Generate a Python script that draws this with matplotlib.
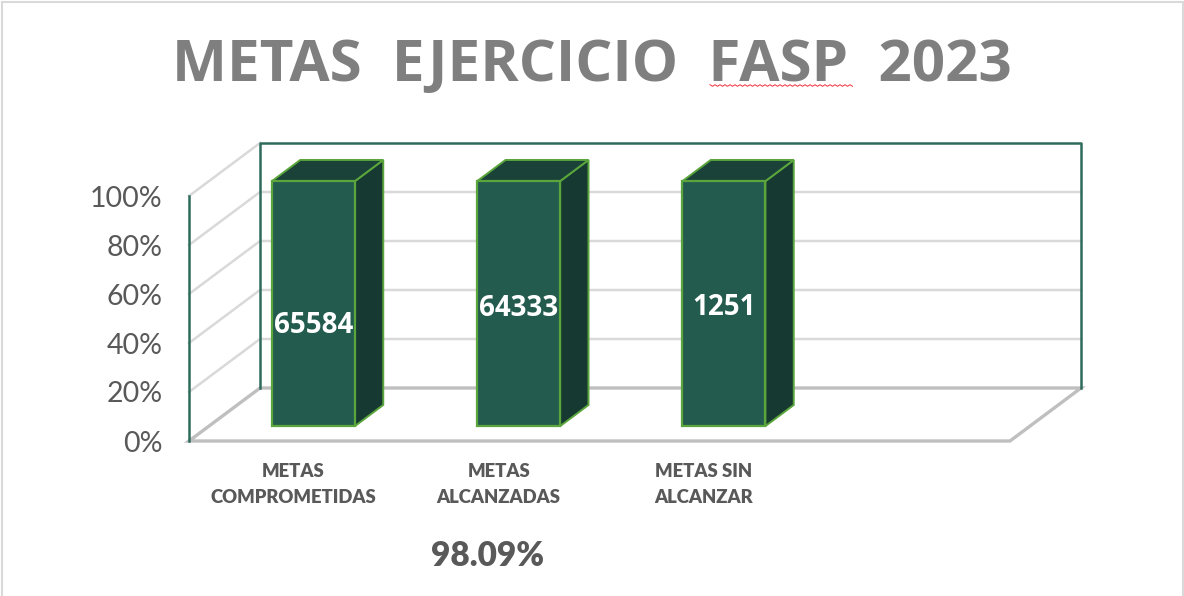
from matplotlib import pyplot as plt
from matplotlib.lines import Line2D
from matplotlib.patches import Polygon, Rectangle
import numpy as np

categories = ['METAS\nCOMPROMETIDAS', 'METAS\nALCANZADAS', 'METAS SIN\nALCANZAR']
metas = [65584, 64333, 1251]
heights = [100, 100, 100]  # 100% stacked columns, one series each
label_heights = [41, 48, 48.5]
y_ticks = [0, 20, 40, 60, 80, 100]
y_labels = ['0%', '20%', '40%', '60%', '80%', '100%']
title = 'METAS  EJERCICIO  FASP  2023'
percent_text = '98.09%'

W, H = 1184, 596
plt.rcParams['font.family'] = ['Lato', 'DejaVu Sans']

fig = plt.figure(figsize=(W / 100, H / 100), dpi=100)
ax = fig.add_axes([189 / W, (H - 441) / H, 821 / W, 245 / H])
ax.set_xlim(-0.509, 3.491)
ax.set_ylim(0, 100)
for s in ax.spines.values():
    s.set_visible(False)
ax.patch.set_visible(False)

# depth of the 3d box, in data units
DX, DY = 71 / 205.25, 53 / 2.45
BAR_W = 83 / 205.25
D1, D2 = 0.28, 0.68


def proj(x, y, d):
    return (x + d * DX, y + d * DY)


x0, x1 = ax.get_xlim()

# floor
ax.add_patch(Polygon([proj(x0, 0, 0), proj(x1, 0, 0), proj(x1, 0, 1), proj(x0, 0, 1)],
                     closed=True, fc='white', ec='#BFBFBF', lw=2.4, clip_on=False, zorder=1))

# grid on the side and back walls
for t in y_ticks[1:]:
    pts = [proj(x0, t, 0), proj(x0, t, 1), proj(x1, t, 1)]
    if t == 100:
        pts = pts[:2]
    ax.plot(*zip(*pts), color='#D9D9D9', lw=1.8, clip_on=False, zorder=1)

# wall frame
green = '#2F6B5C'
ax.plot(*zip(proj(x0, 0, 1), proj(x0, 100, 1), proj(x1, 100, 1), proj(x1, 0, 1)),
        color=green, lw=1.8, clip_on=False, zorder=2)
ax.plot(*zip(proj(x0, 0, 0), proj(x0, 100, 0)), color=green, lw=1.8, clip_on=False, zorder=2)

# columns
edge = '#5BA63C'
for i, h in enumerate(heights):
    l, r = i - BAR_W / 2, i + BAR_W / 2
    side = [proj(r, 0, D1), proj(r, 0, D2), proj(r, h, D2), proj(r, h, D1)]
    top = [proj(l, h, D1), proj(r, h, D1), proj(r, h, D2), proj(l, h, D2)]
    front = [proj(l, 0, D1), proj(r, 0, D1), proj(r, h, D1), proj(l, h, D1)]
    ax.add_patch(Polygon(side, closed=True, fc='#163A31', ec=edge, lw=1.4, clip_on=False, zorder=3))
    ax.add_patch(Polygon(top, closed=True, fc='#1B4239', ec=edge, lw=1.4, clip_on=False, zorder=3))
    ax.add_patch(Polygon(front, closed=True, fc='#235B4E', ec=edge, lw=1.6, clip_on=False, zorder=4))
    px, py = proj(i, label_heights[i], D1)
    ax.text(px, py, str(metas[i]), color='white', fontsize=20, fontweight='bold', family='Open Sans',
            ha='center', va='center', zorder=5)

ax.set_yticks(y_ticks)
ax.set_yticklabels(y_labels, fontsize=20.5, color='#595959')
ax.tick_params(axis='y', length=0, pad=19)
ax.set_xticks(range(len(categories)))
ax.set_xticklabels(categories, fontsize=13.3, fontweight='heavy', color='#595959', linespacing=1.65)
ax.tick_params(axis='x', length=0, pad=15.5)

# things outside the plot, placed in picture pixels
fig.text(592 / W, 1 - 66 / H, title, fontsize=42, fontweight='bold', color='#7F7F7F',
         family='Open Sans', ha='center', va='center')
fig.text(488 / W, 1 - 556 / H, percent_text, fontsize=24, fontweight='heavy', color='#595959',
         ha='center', va='center')

# spell-check squiggle under FASP
sx = np.arange(710, 854, 2.5)
sy = 85.5 + np.where(np.arange(len(sx)) % 2 == 0, -0.8, 0.8)
fig.add_artist(Line2D(sx / W, 1 - sy / H, color='#F0303A', lw=0.7))

# slide border
fig.add_artist(Rectangle((1.5 / W, -0.01), 1181.5 / W, 1 - 2 / H + 0.01, fill=False,
                         ec='#D9D9D9', lw=1.5))

fig.savefig('out.png', dpi=100)
